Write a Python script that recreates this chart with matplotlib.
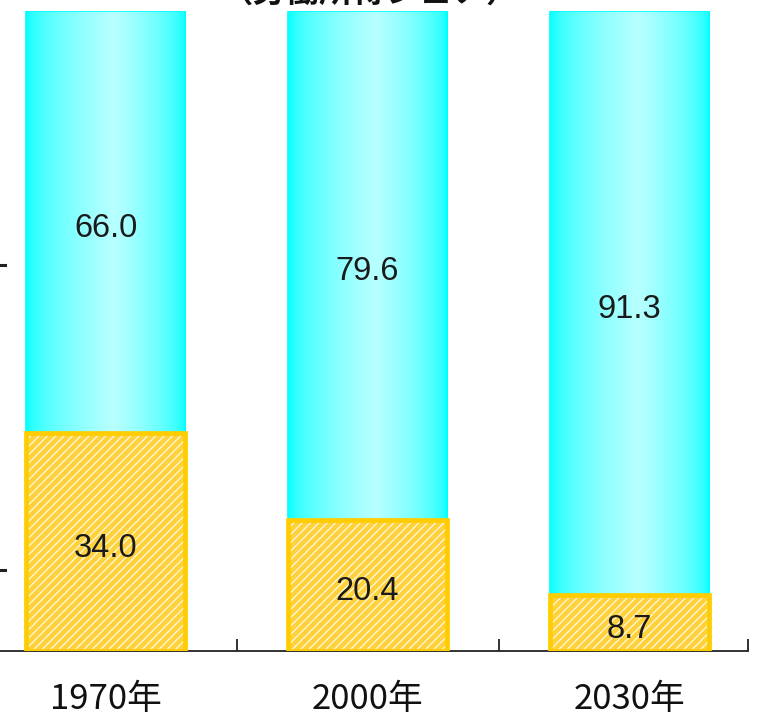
import numpy as np
import matplotlib
matplotlib.use("Agg")
import matplotlib.pyplot as plt
from matplotlib.colors import LinearSegmentedColormap

categories = ["1970年", "2000年", "2030年"]
bottom_vals = [34.0, 20.4, 8.7]
top_vals = [66.0, 79.6, 91.3]
title_text = "（労働所得シェア）"

plt.rcParams['hatch.linewidth'] = 0.9

W, H = 767, 718
fig = plt.figure(figsize=(W / 100, H / 100), dpi=100)
left_px, right_px, bot_px, top_px = -25.5, 748, 651, 11
ax = fig.add_axes([left_px / W, (H - bot_px) / H, (right_px - left_px) / W, (bot_px - top_px) / H])

x = np.arange(len(categories))
bw = 0.607

# bottom hatched segments
ax.bar(x, bottom_vals, bw, facecolor='#FFD23C', edgecolor='#FFF8E0', linewidth=0, hatch='////', zorder=2)
ax.bar(x, bottom_vals, bw, fill=False, edgecolor='#FFCC00', linewidth=3.4, zorder=3)

# top gradient segments
t = np.linspace(0, 1, 256)
prof = np.where(t < 0.55, t / 0.55, (1 - t) / 0.45)
prof = prof ** 0.55
grad = np.vstack([prof, prof])
cm2 = LinearSegmentedColormap.from_list('cy2', ['#00FFFF', '#B8FFFF'])
for xi, b, v in zip(x, bottom_vals, top_vals):
    ax.imshow(grad, cmap=cm2, aspect='auto', extent=[xi - bw / 2, xi + bw / 2, b, b + v],
              zorder=1, interpolation='bilinear')
ax.bar(x, top_vals, bw, bottom=bottom_vals, fill=False, edgecolor='#00FFFF', linewidth=1.2, zorder=2)
ax.set_xlim(-0.5, 2.452)
ax.set_ylim(0, 100)

# value labels
for xi, b, v in zip(x, bottom_vals, top_vals):
    for yc, val in [(b / 2, b), (b + v / 2, v)]:
        ax.annotate(f"{val:.1f}", xy=(xi, yc), xytext=(0, -6), textcoords='offset pixels',
                    ha='center', va='center', fontsize=23.5, family='Liberation Sans',
                    color='#1a1a1a', zorder=5)

# axes styling
for s in ['top', 'right', 'left']:
    ax.spines[s].set_visible(False)
ax.spines['bottom'].set_linewidth(1.3)
ax.spines['bottom'].set_color('#222222')
ax.set_yticks([])
ax.set_xticks([0.5, 1.5, 2.452])
ax.tick_params(axis='x', direction='in', length=9, width=1.3, color='#222222', labelbottom=False)

# category labels
for xi, c in zip(x, categories):
    ax.annotate(c, xy=(xi, 0), xycoords=('data', 'axes fraction'), xytext=(0, -49),
                textcoords='offset pixels', ha='center', va='center', fontsize=25,
                family=['Noto Sans CJK JP', 'DejaVu Sans'], color='#111111')

# partially visible title (cut off at the top edge as in the reference)
fig.text(370 / W, 1 - 9 / H, title_text, ha='center', va='bottom', fontsize=24,
         fontweight='bold', family=['Noto Sans CJK JP', 'DejaVu Sans'], color='#111111')

# small marks on the left edge
for yp in [265, 570]:
    fig.add_artist(plt.Line2D([0, 5 / W], [1 - yp / H, 1 - yp / H], color='#222222', lw=2.2))

fig.savefig('out.png', dpi=100)
